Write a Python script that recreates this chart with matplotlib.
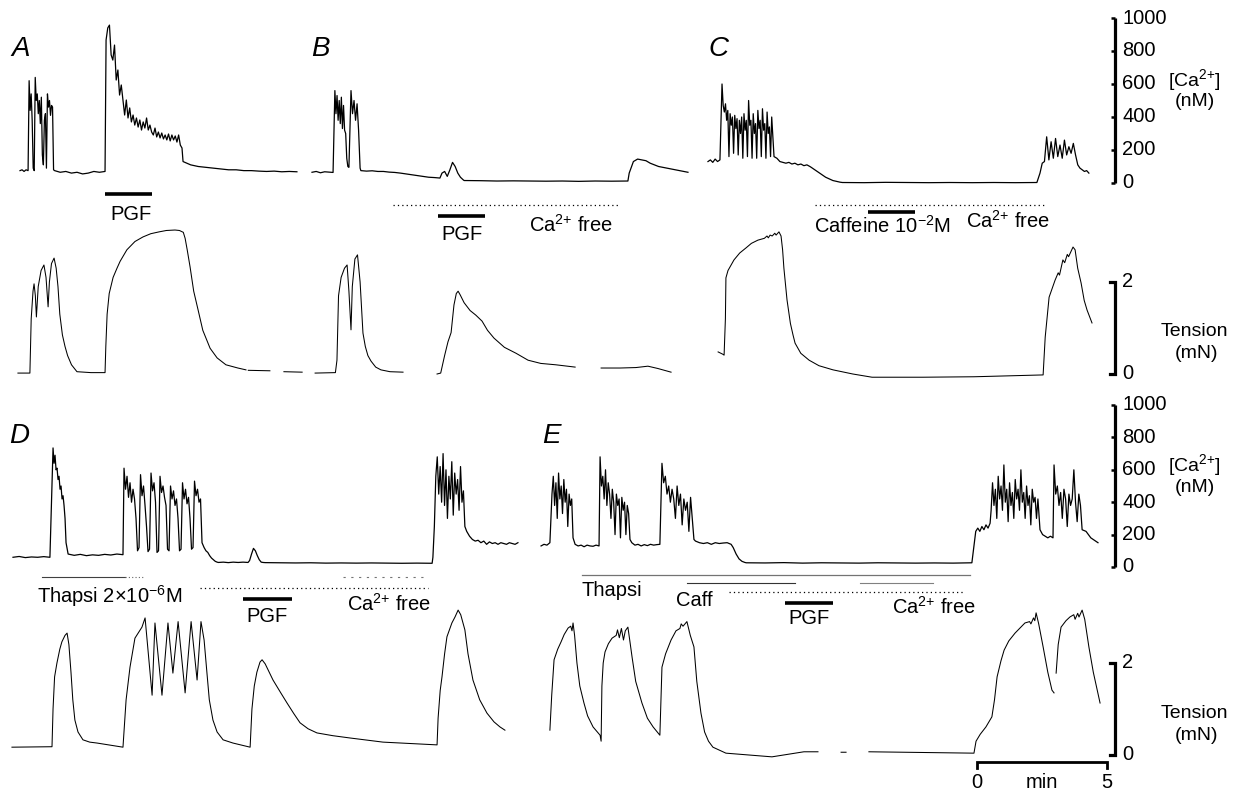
import numpy as np
import matplotlib
matplotlib.use('Agg')
import matplotlib.pyplot as plt

plt.rcParams['font.family'] = ['Liberation Sans', 'DejaVu Sans']
plt.rcParams['mathtext.fontset'] = 'custom'
plt.rcParams['mathtext.rm'] = 'Liberation Sans'
plt.rcParams['mathtext.it'] = 'Liberation Sans:italic'

nan = np.nan
W, H = 1235, 791
MIN_PX = 26.0  # 5 min scale bar is 130 px wide

# ---- [Ca2+] traces (nM); each piece: (t start, t end, samples), time in min ----
a_ca = [
    (0.77, 1.08, [75, 80, 70, 80, 75]),
    (1.12, 2.06, [620, 440, 540, 380, 90, 75, 640, 500, 540, 420, 500, 360, 520, 170, 110,
                  380, 420, 90, 540, 460, 500, 410, 470, 460, 80]),
    (2.1, 4.04, [75, 65, 70, 60, 65, 55, 60, 70, 65, 70]),
    (4.08, 7.0, [867, 940, 957, 776, 745, 836, 624, 685, 533, 594, 503, 412, 503, 394, 455,
                 370, 412, 351, 394, 339, 382, 321, 370, 333, 394, 321, 351, 309, 291, 333,
                 279, 309, 273, 303, 267, 291, 261, 297, 255, 291, 261, 285, 248, 291, 230, 212]),
    (7.04, 11.42, [130, 110, 100, 95, 90, 85, 80, 80, 75, 75, 72, 70, 72, 68, 70, 68]),
]
b_ca = [
    (12.0, 12.81, [65, 70, 62, 68, 66, 64]),
    (12.88, 13.42, [560, 420, 530, 380, 500, 360, 520, 330, 470, 320, 300, 150, 100, 95]),
    (13.5, 13.85, [560, 420, 500, 380, 480, 320, 90]),
    (13.88, 16.92, [75, 72, 74, 70, 70, 66, 64, 60, 55, 50, 45, 40, 35, 33, 30]),
    (17.0, 17.81, [60, 70, 40, 80, 125, 100, 60, 35, 20]),
    (17.85, 24.15, [15, 14, 12, 13, 12, 11, 12, 10, 12, 11, 12]),
    (24.2, 26.46, [60, 130, 145, 140, 135, 120, 110, 100, 95, 90, 85, 80, 75, 70, 65]),
]
c_ca = [
    (27.23, 27.69, [130, 140, 125, 145, 130, 140]),
    (27.77, 29.77, [600, 470, 430, 480, 380, 440, 160, 420, 350, 400, 180, 410, 330, 390, 170,
                    380, 300, 400, 150, 420, 320, 380, 160, 500, 350, 380, 150, 420, 300, 360,
                    150, 440, 330, 380, 160, 450, 320, 360, 150, 430, 300, 340, 160, 400, 280, 160]),
    (29.88, 31.15, [150, 130, 125, 120, 125, 115, 120, 110, 115, 105, 110, 100]),
    (31.2, 32.31, [95, 80, 65, 50, 35, 25, 15, 10, 5]),
    (32.4, 39.88, [3, 2, 4, 3, 2, 3, 2, 3, 2, 3]),
    (40.0, 41.88, [60, 120, 130, 280, 140, 250, 150, 270, 160, 230, 150, 260, 170, 220, 180,
                   240, 170, 110, 90, 80, 70, 75, 60]),
]
d_ca = [
    (0.5, 1.92, [60, 65, 58, 62, 60, 64, 60]),
    (2.04, 2.54, [735, 640, 690, 600, 610, 540, 560, 480, 500, 420, 440, 380, 300, 150]),
    (2.62, 4.73, [80, 72, 78, 70, 75, 72, 78, 74, 80, 76]),
    (4.77, 7.77, [610, 480, 560, 430, 520, 400, 480, 420, 300, 100, 120, 570, 440, 500, 380,
                  250, 95, 110, 580, 470, 520, 400, 90, 100, 560, 460, 500, 430, 380, 110,
                  100, 500, 420, 470, 380, 420, 300, 100, 110, 520, 420, 480, 390, 430, 300,
                  110, 120, 530, 440, 480, 400, 420, 150]),
    (7.85, 8.35, [120, 100, 90, 70, 55, 45, 35, 30]),
    (8.4, 9.54, [28, 30, 27, 30, 28, 30, 28]),
    (9.6, 10.12, [40, 80, 115, 100, 70, 45, 30, 28]),
    (10.2, 16.62, [27, 26, 25, 26, 24, 25, 24, 25, 24, 23, 24, 23]),
    (16.65, 17.88, [60, 250, 560, 680, 450, 620, 400, 700, 380, 600, 300, 560, 420, 650, 320,
                    580, 450, 540, 350, 620, 400, 470, 250]),
    (17.95, 19.92, [220, 190, 170, 160, 165, 150, 160, 140, 155, 145, 150, 140, 150, 145, 140,
                    150, 145, 140, 150]),
]
e_ca = [
    (20.81, 21.15, [130, 140, 135, 150]),
    (21.23, 22.04, [450, 560, 380, 520, 300, 580, 420, 500, 330, 540, 400, 480, 250, 450, 380,
                    420, 180]),
    (22.12, 23.04, [140, 130, 135, 125, 135, 130, 128, 135, 130]),
    (23.08, 24.23, [680, 500, 560, 420, 600, 380, 520, 450, 300, 480, 400, 200, 450, 380, 420,
                    180, 430, 350, 400, 200, 380, 330, 170]),
    (24.3, 25.38, [150, 135, 140, 130, 138, 132, 140, 135, 138, 140]),
    (25.46, 26.69, [640, 520, 560, 450, 500, 400, 480, 420, 300, 500, 380, 450, 260, 420, 350,
                    400, 220, 430, 300, 170]),
    (26.75, 28.12, [160, 150, 145, 150, 140, 150, 145, 148, 150, 140]),
    (28.2, 28.65, [120, 80, 50, 35, 28]),
    (28.7, 37.38, [26, 25, 27, 24, 26, 25, 24, 26, 25, 24, 25, 24, 26]),
    (37.45, 38.08, [120, 220, 240, 220, 250, 230, 260, 240, 270]),
    (38.12, 39.92, [350, 520, 380, 480, 300, 560, 420, 500, 350, 630, 400, 480, 280, 520, 380,
                    460, 300, 540, 420, 480, 350, 600, 400, 460, 300, 500, 380, 440, 260, 480,
                    400, 430, 300, 420]),
    (40.0, 40.5, [230, 200, 190, 180, 190, 180]),
    (40.54, 41.62, [630, 450, 500, 380, 460, 300, 480, 420, 250, 450, 380, 420, 600, 400, 280,
                    450, 380, 230]),
    (41.77, 42.23, [220, 200, 180, 170, 160, 150]),
]

# ---- tension traces (min, mN); nan = pen lifted ----
a_ten = [(0.69, 0.02), (1.15, 0.02), (1.2, 1.2), (1.27, 1.8), (1.31, 1.96), (1.36, 1.7),
         (1.4, 1.24), (1.47, 1.9), (1.58, 2.25), (1.69, 2.37), (1.77, 2.1), (1.85, 1.46),
         (1.9, 2.0), (1.98, 2.4), (2.08, 2.52), (2.16, 2.3), (2.23, 1.9), (2.3, 1.3),
         (2.4, 0.85), (2.5, 0.6), (2.6, 0.4), (2.75, 0.2), (2.96, 0.05), (3.5, 0.03),
         (4.04, 0.03), (4.07, 0.6), (4.12, 1.3), (4.2, 1.75), (4.35, 2.1), (4.5, 2.3),
         (4.62, 2.45), (4.88, 2.7), (5.19, 2.88), (5.5, 2.98), (5.8, 3.05), (6.12, 3.09),
         (6.4, 3.12), (6.73, 3.13), (6.9, 3.12), (7.05, 3.08), (7.12, 2.95), (7.2, 2.7),
         (7.31, 2.33), (7.45, 1.8), (7.62, 1.39), (7.8, 0.95), (8.08, 0.56), (8.35, 0.35),
         (8.69, 0.2), (9.15, 0.13), (9.46, 0.09), (9.5, nan), (9.55, 0.08), (10.38, 0.07),
         (10.4, nan), (10.92, 0.05), (11.62, 0.04)]
b_ten = [(12.12, 0.02), (12.9, 0.03), (12.96, 0.3), (13.02, 1.7), (13.12, 2.1), (13.25, 2.3),
         (13.35, 2.37), (13.42, 1.8), (13.5, 0.96), (13.55, 1.9), (13.65, 2.5), (13.75, 2.59),
         (13.85, 2.0), (13.96, 0.89), (14.05, 0.6), (14.15, 0.4), (14.27, 0.28), (14.45, 0.15),
         (14.65, 0.09), (15.0, 0.05), (15.5, 0.04), (15.52, nan), (16.81, 0.0), (16.95, 0.02),
         (17.1, 0.4), (17.23, 0.7), (17.35, 0.9), (17.46, 1.5), (17.55, 1.75), (17.62, 1.8),
         (17.7, 1.72), (17.85, 1.55), (18.08, 1.38), (18.3, 1.28), (18.54, 1.15), (18.75, 0.95),
         (19.0, 0.78), (19.4, 0.58), (19.85, 0.45), (20.31, 0.3), (20.8, 0.23), (21.38, 0.2),
         (22.12, 0.15), (22.14, nan), (23.12, 0.13), (23.85, 0.13), (24.46, 0.14), (24.92, 0.17),
         (25.3, 0.12), (25.81, 0.04)]
c_ten = [(27.62, 0.48), (27.8, 0.43), (27.85, 0.41), (27.9, 1.2), (27.92, 2.09), (28.0, 2.25),
         (28.23, 2.48), (28.45, 2.63), (28.69, 2.74), (28.9, 2.84), (29.15, 2.91), (29.4, 2.95),
         (29.5, 3.0), (29.55, 2.96), (29.62, 3.02), (29.7, 3.0), (29.8, 3.06), (29.85, 3.02),
         (29.96, 3.09), (30.04, 3.0), (30.1, 2.7), (30.15, 2.3), (30.27, 1.61), (30.4, 1.1),
         (30.5, 0.85), (30.58, 0.67), (30.8, 0.45), (31.12, 0.3), (31.5, 0.18), (32.04, 0.09),
         (32.8, 0.0), (33.54, -0.07), (35.5, -0.07), (37.46, -0.06), (40.12, -0.02), (40.2, 0.8),
         (40.35, 1.67), (40.58, 2.04), (40.7, 2.2), (40.75, 2.15), (40.88, 2.48), (40.95, 2.42),
         (41.05, 2.6), (41.1, 2.55), (41.27, 2.76), (41.35, 2.7), (41.45, 2.3), (41.58, 1.98),
         (41.7, 1.6), (41.81, 1.39), (42.0, 1.11)]
d_ten = [(0.46, 0.17), (2.0, 0.18), (2.04, 1.0), (2.1, 1.7), (2.19, 2.0), (2.3, 2.3),
         (2.38, 2.46), (2.5, 2.6), (2.58, 2.65), (2.65, 2.4), (2.73, 1.8), (2.8, 1.2),
         (2.88, 0.76), (3.0, 0.5), (3.19, 0.33), (3.45, 0.28), (3.73, 0.26), (4.73, 0.17),
         (4.85, 1.2), (5.0, 1.91), (5.19, 2.54), (5.46, 2.78), (5.58, 2.98), (5.85, 1.3),
         (5.96, 2.87), (6.23, 1.3), (6.46, 2.87), (6.65, 1.78), (6.85, 2.9), (7.12, 1.35),
         (7.35, 2.9), (7.58, 1.63), (7.73, 2.9), (7.85, 2.5), (7.96, 1.78), (8.05, 1.2),
         (8.19, 0.76), (8.35, 0.5), (8.58, 0.33), (8.96, 0.26), (9.62, 0.17), (9.69, 1.0),
         (9.78, 1.5), (9.88, 1.8), (10.0, 2.02), (10.08, 2.07), (10.2, 1.98), (10.5, 1.63),
         (10.8, 1.35), (11.04, 1.13), (11.3, 0.9), (11.54, 0.7), (11.85, 0.57), (12.19, 0.48),
         (12.8, 0.42), (13.46, 0.37), (14.73, 0.28), (16.81, 0.22), (16.85, 0.8), (16.93, 1.4),
         (17.0, 1.7), (17.1, 2.2), (17.19, 2.57), (17.38, 2.87), (17.5, 3.0), (17.62, 3.15),
         (17.72, 3.05), (17.88, 2.72), (18.0, 2.2), (18.19, 1.63), (18.45, 1.2), (18.73, 0.91),
         (19.0, 0.72), (19.23, 0.61), (19.42, 0.54)]
e_ten = [(21.15, 0.54), (21.22, 1.3), (21.31, 2.07), (21.45, 2.3), (21.58, 2.46), (21.7, 2.62),
         (21.85, 2.76), (21.95, 2.8), (22.0, 2.7), (22.04, 2.87), (22.1, 2.6), (22.19, 2.0),
         (22.3, 1.5), (22.46, 1.13), (22.6, 0.85), (22.81, 0.61), (23.08, 0.43), (23.12, 0.3),
         (23.15, 1.5), (23.2, 2.0), (23.27, 2.24), (23.4, 2.42), (23.54, 2.54), (23.7, 2.6),
         (23.75, 2.72), (23.82, 2.55), (23.9, 2.75), (23.98, 2.5), (24.05, 2.7), (24.15, 2.78),
         (24.22, 2.5), (24.31, 2.13), (24.45, 1.6), (24.69, 1.13), (24.9, 0.8), (25.12, 0.61),
         (25.38, 0.43), (25.46, 1.91), (25.6, 2.2), (25.81, 2.5), (26.0, 2.7), (26.15, 2.75),
         (26.2, 2.85), (26.27, 2.8), (26.42, 2.9), (26.55, 2.6), (26.69, 2.35), (26.8, 1.6),
         (26.96, 0.91), (27.1, 0.5), (27.25, 0.3), (27.42, 0.17), (27.92, 0.04), (29.69, -0.04),
         (30.92, 0.07), (31.46, 0.07), (31.5, nan), (32.35, 0.06), (32.54, 0.06), (32.6, nan),
         (33.42, 0.07), (37.46, 0.04), (37.54, 0.3), (37.7, 0.45), (37.92, 0.61), (38.15, 0.83),
         (38.25, 1.2), (38.35, 1.7), (38.5, 2.05), (38.62, 2.28), (38.8, 2.48), (39.04, 2.65),
         (39.42, 2.87), (39.6, 2.9), (39.65, 2.85), (39.75, 2.98), (39.8, 2.92), (39.85, 3.09),
         (39.95, 2.85), (40.12, 2.35), (40.3, 1.8), (40.46, 1.41), (40.54, 1.35), (40.58, nan),
         (40.62, 1.78), (40.7, 2.4), (40.81, 2.78), (41.0, 2.92), (41.15, 3.0), (41.3, 3.05),
         (41.35, 2.95), (41.45, 3.08), (41.5, 3.0), (41.62, 3.15), (41.72, 2.95), (41.88, 2.35),
         (42.05, 1.8), (42.31, 1.13)]

# ---- drug application periods (min) ----
pgf_a = (4.04, 5.85)
pgf_b = (16.85, 18.65)
ca_free_b = (15.1, 23.85)
ca_free_c = (31.35, 40.2)
caffeine_c = (33.38, 35.19)
thapsi_d = (1.6, 4.8)
ca_free_d = (7.7, 16.46)
pgf_d = (9.35, 11.23)
thapsi_e = (22.38, 37.31)
caff_e = (26.42, 30.58)
ca_free_e = (28.04, 37.12)
pgf_e = (30.19, 32.04)

ca_ticks = [0, 200, 400, 600, 800, 1000]
CA = 'Ca$^{2{+}}$'


def build(pieces):
    ts, vs = [], []
    for t0, t1, vals in pieces:
        ts.append(np.linspace(t0, t1, len(vals)))
        vs.append(np.asarray(vals, float))
    return np.concatenate(ts), np.concatenate(vs)


fig = plt.figure(figsize=(W / 100, H / 100), dpi=100)
fig.patch.set_facecolor('white')


def row_axes(top, bottom, zero, ppu):
    ax = fig.add_axes([0, 1 - bottom / H, 1, (bottom - top) / H])
    ax.set_xlim(0, W / MIN_PX)
    ax.set_ylim((zero - bottom) / ppu, (zero - top) / ppu)
    ax.axis('off')
    return ax


ca1 = row_axes(0, 200, 183, 0.165)
ten1 = row_axes(200, 395, 374, 46.0)
ca2 = row_axes(395, 585, 567, 0.162)
ten2 = row_axes(585, 791, 755, 46.0)
ov = fig.add_axes([0, 0, 1, 1])
ov.set_xlim(0, W / MIN_PX)
ov.set_ylim(H, 0)
ov.axis('off')

for ax, pieces in [(ca1, a_ca), (ca1, b_ca), (ca1, c_ca), (ca2, d_ca), (ca2, e_ca)]:
    t, v = build(pieces)
    ax.plot(t, v, color='black', lw=0.9)

for ax, pts in [(ten1, a_ten), (ten1, b_ten), (ten1, c_ten), (ten2, d_ten), (ten2, e_ten)]:
    t, v = np.array(pts, float).T
    ax.plot(t, v, color='black', lw=0.75)

FS = 14.5

# scale bars
xs = 1115 / MIN_PX
for ax in (ca1, ca2):
    ax.plot([xs, xs], [0, 1000], color='black', lw=2.3, solid_capstyle='butt')
    for v in ca_ticks:
        ax.plot([xs - 0.17, xs], [v, v], color='black', lw=1.8, solid_capstyle='butt')
        ax.text(xs + 0.28, v, str(v), va='center', ha='left', fontsize=FS)
for ax in (ten1, ten2):
    ax.plot([xs - 0.2, xs, xs, xs - 0.2], [2, 2, 0, 0], color='black', lw=2.3,
            solid_joinstyle='miter')
    ax.text(xs + 0.28, 2, '2', va='center', ha='left', fontsize=FS)
    ax.text(xs + 0.28, 0, '0', va='center', ha='left', fontsize=FS)

# time bar
tb0, tb1 = 977 / MIN_PX, 977 / MIN_PX + 5
ten2.plot([tb0, tb0, tb1, tb1], [-0.28, -0.15, -0.15, -0.28], color='black', lw=2.0,
          solid_joinstyle='miter')
ten2.text(tb0, -0.6, '0', ha='center', va='center', fontsize=FS)
ten2.text((tb0 + tb1) / 2, -0.6, 'min', ha='center', va='center', fontsize=FS)
ten2.text(tb1, -0.6, '5', ha='center', va='center', fontsize=FS)

# protocol bars (x = min, y = pixel row)
thick = dict(color='black', lw=2.6, solid_capstyle='butt')
dotted = dict(color='black', lw=0.9, linestyle=(0, (1, 2.5)))
ov.plot(pgf_a, [194, 194], **thick)
ov.plot(pgf_b, [216, 216], **thick)
ov.plot(ca_free_b, [205, 205], **dotted)
ov.plot(ca_free_c, [205, 205], **dotted)
ov.plot(caffeine_c, [212, 212], **thick)

ov.plot(thapsi_d, [577, 577], color='0.25', lw=0.8)
ov.plot([thapsi_d[1], thapsi_d[1] + 0.7], [577, 577], color='0.4', lw=0.8, linestyle=(0, (1, 2)))
ov.plot([13.2, 16.46], [577, 577], color='0.45', lw=0.8, linestyle=(0, (2, 5)))
ov.plot(ca_free_d, [588, 588], **dotted)
ov.plot(pgf_d, [599, 599], **thick)

ov.plot(thapsi_e, [575, 575], color='0.45', lw=0.9)
ov.plot(caff_e, [583, 583], color='0.2', lw=0.8)
ov.plot([33.08, 35.88], [583, 583], color='0.5', lw=0.8)
ov.plot(ca_free_e, [592, 592], **dotted)
ov.plot(pgf_e, [603, 603], **thick)


def ftext(x, y, s, **kw):
    kw.setdefault('fontsize', FS)
    kw.setdefault('va', 'center')
    fig.text(x / W, 1 - y / H, s, **kw)


for lab, x, y in [('A', 11, 49), ('B', 311, 49), ('C', 708, 49), ('D', 9, 436), ('E', 542, 436)]:
    ftext(x, y, lab, fontsize=20, style='italic', ha='left')

ftext(131, 214, 'PGF', ha='center')
ftext(462, 235, 'PGF', ha='center')
ftext(529, 225, CA + ' free', ha='left')
ftext(814, 226, 'Caffeine 10$^{-2}$M', ha='left')
ftext(966, 221, CA + ' free', ha='left')

ftext(37, 596, 'Thapsi 2\u00d710$^{-6}$M', ha='left')
ftext(267, 616, 'PGF', ha='center')
ftext(347, 604, CA + ' free', ha='left')
ftext(581, 591, 'Thapsi', ha='left')
ftext(676, 600, 'Caff', ha='left')
ftext(809, 618, 'PGF', ha='center')
ftext(892, 607, CA + ' free', ha='left')

for y0 in (0, 385):
    ftext(1194, 80 + y0, '[' + CA + ']', ha='center', fontsize=14)
    ftext(1195, 102 + y0, '(nM)', ha='center', fontsize=14)
for y0 in (0, 383):
    ftext(1194, 331 + y0, 'Tension', ha='center', fontsize=14)
    ftext(1197, 353 + y0, '(mN)', ha='center', fontsize=14)

fig.savefig('out.png', dpi=100, facecolor='white')
